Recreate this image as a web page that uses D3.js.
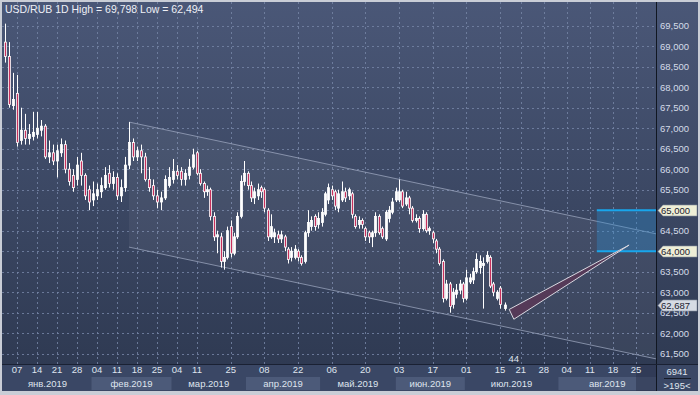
<!DOCTYPE html>
<html>
<head>
<meta charset="utf-8">
<script src="https://cdn.jsdelivr.net/npm/d3@7"></script>
<style>
body{margin:0;background:#c9cdd6;}
svg{display:block;font-family:"Liberation Sans",Arial,sans-serif;}
</style>
</head>
<body>
<svg id="chart" width="700" height="395"></svg>
<script>
// USD/RUB daily candles, 2 Jan - 16 Jul 2019 (one entry per trading day)
var opens = [69.10,68.75,67.55,67.85,66.70,66.95,66.75,66.80,66.85,66.95,67.05,66.30,66.40,66.20,66.40,66.60,66.00,65.85,65.75,66.20,
	65.85,65.50,65.25,65.35,65.45,65.55,65.90,65.65,65.80,65.35,65.55,66.10,66.65,66.30,66.45,66.30,65.75,65.60,65.35,65.20,
	65.30,65.60,65.75,65.95,65.95,65.75,65.85,66.05,66.40,65.90,65.65,65.45,65.50,64.85,64.35,64.35,63.75,63.85,64.60,63.95,
	64.35,64.85,65.70,65.90,65.60,65.30,65.35,65.55,65.50,65.00,64.35,64.35,64.40,64.30,64.35,64.05,63.85,63.85,64.00,63.85,
	63.75,64.45,64.60,64.85,64.65,64.70,64.90,65.25,65.50,65.45,65.05,65.25,65.45,65.35,65.40,64.85,64.65,64.75,64.55,64.45,
	64.35,64.45,64.85,64.55,64.30,64.80,64.95,65.25,65.25,65.45,65.15,65.30,65.05,64.75,64.80,64.55,64.90,64.50,64.45,64.25,
	64.05,63.75,62.85,63.20,62.70,62.95,63.05,63.20,62.85,63.25,63.30,63.50,63.60,63.65,63.75,63.85,63.20,62.85,63.10,62.60];
var highs = [69.55,69.10,68.35,68.30,67.50,67.35,67.10,67.40,67.40,67.20,67.10,66.70,66.60,66.60,66.75,66.70,66.15,66.00,66.30,66.40,
	65.90,65.60,65.70,65.65,65.80,66.05,66.10,65.95,65.90,65.75,66.30,67.15,66.75,66.55,66.60,66.40,66.05,65.75,65.50,65.45,
	65.85,66.05,66.25,66.10,66.05,66.00,66.25,66.50,66.45,66.00,65.70,65.60,65.55,64.95,64.50,64.45,64.00,64.60,64.75,64.45,
	64.95,65.85,66.20,65.95,65.70,65.55,65.65,65.60,65.55,65.05,64.90,64.55,64.50,64.50,64.40,64.10,64.10,64.15,64.05,63.90,
	64.50,65.00,64.85,64.90,64.95,65.05,65.45,65.65,65.60,65.50,65.50,65.70,65.55,65.55,65.45,64.90,64.85,64.80,64.60,64.50,
	64.50,64.95,64.90,64.60,65.00,65.10,65.30,65.55,65.75,65.50,65.45,65.35,65.10,64.90,64.85,65.00,64.95,64.60,64.50,64.30,
	64.10,63.80,63.30,63.25,63.10,63.20,63.30,63.25,63.55,63.45,63.60,63.95,63.90,63.85,64.00,63.90,63.25,63.05,63.15,62.75];
var lows = [68.60,67.50,67.45,66.55,66.60,66.60,66.60,66.70,66.75,66.80,66.25,66.15,66.10,65.80,66.30,65.90,65.60,65.45,65.60,65.60,
	65.25,65.00,65.10,65.25,65.30,65.50,65.55,65.50,65.25,65.20,65.45,66.00,66.20,66.20,65.90,65.70,65.45,65.25,65.05,65.00,
	65.25,65.55,65.65,65.75,65.60,65.60,65.75,66.00,65.85,65.60,65.30,65.35,64.75,64.25,63.95,63.60,63.55,63.80,63.85,63.90,
	64.30,64.80,65.60,65.50,65.20,65.15,65.25,65.30,64.95,64.25,64.30,64.20,64.20,64.20,64.00,63.70,63.75,63.80,63.75,63.65,
	63.70,64.35,64.50,64.50,64.55,64.60,64.85,65.15,65.25,65.00,64.95,65.20,65.20,65.25,64.80,64.55,64.55,64.55,64.25,64.20,
	64.10,64.35,64.40,64.30,64.25,64.70,64.90,65.20,65.20,65.05,65.10,64.90,64.70,64.70,64.45,64.50,64.45,64.40,64.20,63.95,
	63.65,62.75,62.80,62.50,62.60,62.85,62.95,62.75,62.80,63.20,63.20,63.45,63.45,62.60,63.70,63.10,62.90,62.80,62.60,62.55];
var closes = [68.75,67.58,67.70,66.65,66.95,66.75,66.85,66.90,67.00,67.05,66.30,66.40,66.20,66.45,66.60,66.00,65.70,65.55,66.10,65.85,
	65.35,65.20,65.40,65.50,65.60,65.85,65.65,65.80,65.35,65.55,66.10,66.65,66.30,66.45,66.30,65.75,65.55,65.35,65.20,65.30,
	65.75,65.80,65.95,65.85,65.75,65.90,66.05,66.35,65.90,65.65,65.45,65.50,64.85,64.35,64.40,63.75,63.85,64.50,63.95,64.35,
	64.85,65.70,65.90,65.60,65.30,65.45,65.50,65.45,65.05,64.35,64.60,64.45,64.30,64.40,64.10,63.80,64.00,64.05,63.85,63.70,
	64.45,64.70,64.75,64.60,64.80,64.95,65.40,65.55,65.35,65.10,65.40,65.45,65.30,65.50,64.90,64.60,64.75,64.65,64.35,64.35,
	64.45,64.85,64.45,64.35,64.95,65.00,65.20,65.45,65.45,65.10,65.30,65.05,64.75,64.80,64.55,64.90,64.50,64.55,64.30,64.05,
	63.70,62.85,63.20,62.65,63.00,63.05,63.20,62.85,63.35,63.35,63.50,63.80,63.75,63.70,63.90,63.15,63.00,63.00,62.70,62.687];

var firstDay = "2019-01-02";
var tickDays = ["2019-01-07","2019-01-14","2019-01-21","2019-01-28","2019-02-04","2019-02-11","2019-02-18","2019-02-25",
	"2019-03-04","2019-03-11","2019-03-25","2019-04-08","2019-04-22","2019-05-06","2019-05-20","2019-06-03","2019-06-17",
	"2019-07-01","2019-07-15","2019-07-21","2019-07-28","2019-08-04","2019-08-11","2019-08-18","2019-08-25"];
var monthNames = ["янв.2019","фев.2019","мар.2019","апр.2019","май.2019","июн.2019","июл.2019","авг.2019"];
var monthStarts = ["2019-01-01","2019-02-01","2019-03-01","2019-04-01","2019-05-01","2019-06-01","2019-07-01","2019-08-01","2019-09-01"];
var priceTicks = [61.5,62,62.5,63,63.5,64,64.5,65,65.5,66,66.5,67,67.5,68,68.5,69,69.5];

var symbol = "USD/RUB 1D", highVal = 69.798, lowVal = 62.494;
var lastPrice = 62.687;
var levels = [65.0, 64.0];          // blue zone levels
var zoneStart = "2019-08-13";
// regression channel (upper line; lower line is shifted by channelWidth)
var channelDays = ["2019-02-14","2019-08-30"], channelTop = [67.15, 64.42], channelWidth = 3.05;
// wedge drawing: [day, price]
var wedge = [["2019-07-17",62.58],["2019-07-18",62.34],["2019-08-22",64.15]];
var barsLabel = "44", cornerTop = "6941", cornerBottom = ">195<";

var W = 700, H = 395;
var plotL = 2, plotR = 656, plotT = 2, plotB = 364;

var parse = d3.timeParse("%Y-%m-%d");
var t0 = parse(firstDay);
// trading-day index of a date; weekend days fall half a slot before monday
function tIdx(s){
	var d = parse(s);
	var n = d3.timeDay.range(t0, d).filter(function(v){ return v.getDay() != 0 && v.getDay() != 6; }).length;
	if (d.getDay() == 0 || d.getDay() == 6) n -= 0.5;
	return n;
}

var ru = d3.formatLocale({decimal:",", thousands:" ", grouping:[3], currency:["",""]});
var fmt = ru.format(".3f");

// the terminal squeezes the x axis unevenly, so the scale is piecewise
var x = d3.scaleLinear()
	.domain([tIdx("2019-01-07"), tIdx("2019-03-11"), tIdx("2019-07-15"), tIdx("2019-08-25")])
	.range([17, 197, 500, 636]);
var y = d3.scaleLinear().domain([61.5, 69.5]).range([353.7, 25.7]);

var svg = d3.select("#chart");
var defs = svg.append("defs");
var g1 = defs.append("linearGradient").attr("id","bg").attr("x1",0).attr("y1",0).attr("x2",0).attr("y2",1);
g1.append("stop").attr("offset","0%").attr("stop-color","#4a5777");
g1.append("stop").attr("offset","100%").attr("stop-color","#2d3850");
defs.append("clipPath").attr("id","plotclip").append("rect")
	.attr("x",plotL).attr("y",plotT).attr("width",plotR-plotL).attr("height",plotB-plotT);

// frame + backgrounds
svg.append("rect").attr("width",W).attr("height",H).attr("fill","#c9cdd6");
svg.append("rect").attr("x",2).attr("y",2).attr("width",W-4).attr("height",389).attr("fill","url(#bg)");
svg.append("rect").attr("x",2).attr("y",plotB).attr("width",W-4).attr("height",391-plotB).attr("fill","#3a4765");

var plot = svg.append("g").attr("clip-path","url(#plotclip)");

// grid
plot.selectAll(".hg").data(priceTicks).enter().append("line")
	.attr("x1",plotL).attr("x2",plotR)
	.attr("y1",function(d){ return Math.round(y(d))+0.5; })
	.attr("y2",function(d){ return Math.round(y(d))+0.5; })
	.attr("stroke","#7484a4").attr("stroke-dasharray","2,3").attr("stroke-opacity",0.85);
plot.selectAll(".vg").data(tickDays).enter().append("line")
	.attr("x1",function(d){ return Math.round(x(tIdx(d)))+0.5; })
	.attr("x2",function(d){ return Math.round(x(tIdx(d)))+0.5; })
	.attr("y1",plotT).attr("y2",plotB)
	.attr("stroke","#7484a4").attr("stroke-dasharray","2,3").attr("stroke-opacity",0.85);

// channel
var cx0 = x(tIdx(channelDays[0])), cx1 = x(tIdx(channelDays[1]));
var chPts = [[cx0, y(channelTop[0])],[cx1, y(channelTop[1])],
	[cx1, y(channelTop[1]-channelWidth)],[cx0, y(channelTop[0]-channelWidth)]];
plot.append("path").attr("d","M"+chPts.join("L")+"Z")
	.attr("fill","#ffffff").attr("fill-opacity",0.05);
plot.append("line").attr("x1",chPts[0][0]).attr("y1",chPts[0][1]).attr("x2",chPts[1][0]).attr("y2",chPts[1][1])
	.attr("stroke","#a4aec6").attr("stroke-opacity",0.7);
plot.append("line").attr("x1",chPts[3][0]).attr("y1",chPts[3][1]).attr("x2",chPts[2][0]).attr("y2",chPts[2][1])
	.attr("stroke","#a4aec6").attr("stroke-opacity",0.7);

// blue zone
var zx = x(tIdx(zoneStart));
plot.append("rect").attr("x",zx).attr("y",y(levels[0])).attr("width",plotR-zx).attr("height",y(levels[1])-y(levels[0]))
	.attr("fill","#2a8cd0").attr("fill-opacity",0.35);
plot.selectAll(".lv").data(levels).enter().append("line")
	.attr("x1",zx).attr("x2",plotR).attr("y1",function(d){ return y(d); }).attr("y2",function(d){ return y(d); })
	.attr("stroke","#18a6ec").attr("stroke-width",2);

// candles
var idx = d3.range(closes.length);
var candle = plot.append("g").selectAll("g").data(idx).enter().append("g");
candle.append("line")
	.attr("x1",function(i){ return Math.round(x(i))+0.5; })
	.attr("x2",function(i){ return Math.round(x(i))+0.5; })
	.attr("y1",function(i){ return y(highs[i]); })
	.attr("y2",function(i){ return y(lows[i]); })
	.attr("stroke","#ffffff");
candle.append("rect")
	.attr("x",function(i){ return Math.round(x(i))-0.5; })
	.attr("y",function(i){ return y(Math.max(opens[i],closes[i])); })
	.attr("width",2)
	.attr("height",function(i){ return Math.max(1, Math.abs(y(opens[i])-y(closes[i]))); })
	.attr("fill",function(i){ return closes[i] < opens[i] ? "#c8305c" : "#ffffff"; })
	.attr("stroke","#ffffff").attr("stroke-width",0.8);

// wedge
var wp = wedge.map(function(d){ return [x(tIdx(d[0])), y(d[1])]; });
plot.append("path").attr("d","M"+wp.join("L")+"Z")
	.attr("fill","#553a58").attr("stroke","#d8d8e0").attr("stroke-width",1);

// title
svg.append("text").attr("x",5).attr("y",13).attr("fill","#eef0f6").attr("font-size",10.5)
	.text(symbol+" High = "+fmt(highVal)+" Low = "+fmt(lowVal));
svg.append("text").attr("x",x(tIdx("2019-07-18"))).attr("y",362).attr("fill","#dfe4ee").attr("font-size",9.5)
	.attr("text-anchor","middle").text(barsLabel);

// axis separators
svg.append("line").attr("x1",plotR+0.5).attr("x2",plotR+0.5).attr("y1",2).attr("y2",391).attr("stroke","#111722");
svg.append("line").attr("x1",2).attr("x2",W-2).attr("y1",plotB+0.5).attr("y2",plotB+0.5).attr("stroke","#1a2133");

// right axis labels
svg.append("g").selectAll("text").data(priceTicks).enter().append("text")
	.attr("x",660).attr("y",function(d){ return y(d); }).attr("dy","0.35em")
	.attr("fill","#d4dbe8").attr("font-size",9.5).text(fmt);

// price markers on the axis
function marker(p, fill){
	var yy = Math.round(y(p))+0.5;
	svg.append("path")
		.attr("d","M"+(plotR+2)+","+yy+"L"+(plotR+7)+","+(yy-5.5)+"L"+(W-3)+","+(yy-5.5)+"L"+(W-3)+","+(yy+5.5)+"L"+(plotR+7)+","+(yy+5.5)+"Z")
		.attr("fill",fill).attr("stroke","#8890a0").attr("stroke-width",0.6);
	svg.append("text").attr("x",661).attr("y",yy).attr("dy","0.35em")
		.attr("fill","#1c2230").attr("font-size",9.5).text(fmt(p));
}
levels.forEach(function(p){ marker(p, "#eeeed6"); });
marker(lastPrice, "#d6dbe4");

// bottom axis: month bands
var months = monthNames.map(function(n,i){
	return {name:n, x0:Math.max(plotL, x(tIdx(monthStarts[i]))-1.5), x1:Math.min(plotR, x(tIdx(monthStarts[i+1]))-1.5)};
});
svg.selectAll(".mb").data(months).enter().append("rect")
	.attr("x",function(d){ return d.x0; }).attr("y",377)
	.attr("width",function(d){ return d.x1-d.x0; }).attr("height",13)
	.attr("fill",function(d,i){ return i%2 ? "#4c5a79" : "none"; });
svg.selectAll(".ml").data(months).enter().append("text")
	.attr("x",function(d){ return (d.x0+d.x1)/2; }).attr("y",384).attr("dy","0.35em")
	.attr("text-anchor","middle").attr("fill","#dfe4ee").attr("font-size",9.5)
	.text(function(d){ return d.name; });

// view marker at the right end of the time axis
svg.append("rect").attr("x",x(tIdx("2019-08-25"))).attr("y",plotB+1)
	.attr("width",plotR-x(tIdx("2019-08-25"))).attr("height",26)
	.attr("fill","#27304a").attr("fill-opacity",0.5);

svg.selectAll(".tl").data(tickDays).enter().append("text")
	.attr("x",function(d){ return x(tIdx(d)); }).attr("y",370).attr("dy","0.35em")
	.attr("text-anchor","middle").attr("fill","#dfe4ee").attr("font-size",9.5)
	.text(function(d){ return d.slice(8); });

// corner box
svg.append("text").attr("x",677).attr("y",372).attr("dy","0.35em").attr("text-anchor","middle")
	.attr("fill","#dfe4ee").attr("font-size",9.5).text(cornerTop);
svg.append("line").attr("x1",664).attr("x2",691).attr("y1",378.5).attr("y2",378.5).attr("stroke","#151b28");
svg.append("text").attr("x",677).attr("y",386).attr("dy","0.35em").attr("text-anchor","middle")
	.attr("fill","#dfe4ee").attr("font-size",9.5).text(cornerBottom);
</script>
</body>
</html>
